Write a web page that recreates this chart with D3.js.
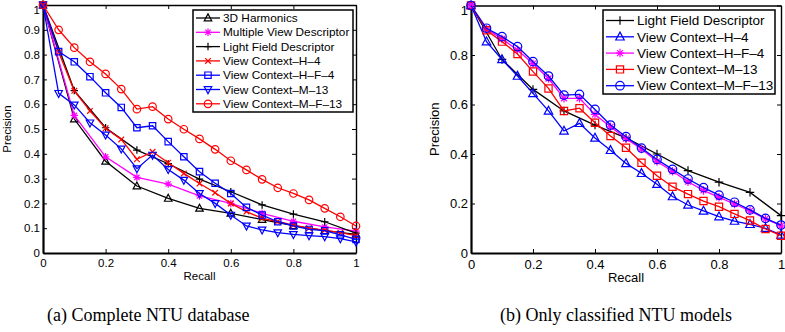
<!DOCTYPE html>
<html>
<head>
<meta charset="utf-8">
<script src="https://d3js.org/d3.v7.min.js"></script>
<style>
  body { margin: 0; background: #fff; }
  svg { display: block; }
  .tick text { font-family: "Liberation Sans", Arial, sans-serif; fill: #000; }
</style>
</head>
<body>
<div id="chart"></div>
<script>
// Recall categories (x values)
const recallTenths = [0, 0.1, 0.2, 0.3, 0.4, 0.5, 0.6, 0.7, 0.8, 0.9, 1];
const recallTwentieths = [0, 0.05, 0.1, 0.15, 0.2, 0.25, 0.3, 0.35, 0.4, 0.45, 0.5,
  0.55, 0.6, 0.65, 0.7, 0.75, 0.8, 0.85, 0.9, 0.95, 1];

// Tick labels
const xTicks = [0, 0.2, 0.4, 0.6, 0.8, 1];
const yTicksA = [0, 0.1, 0.2, 0.3, 0.4, 0.5, 0.6, 0.7, 0.8, 0.9, 1];
const yTicksB = [0, 0.2, 0.4, 0.6, 0.8, 1];

// (a) Complete NTU database
const harmonicsA = [1, 0.54, 0.37, 0.27, 0.22, 0.18, 0.16, 0.135, 0.11, 0.09, 0.075];
const mvdA = [1, 0.555, 0.388, 0.305, 0.278, 0.23, 0.2, 0.16, 0.128, 0.105, 0.088];
const lfdA = [1, 0.655, 0.505, 0.415, 0.36, 0.298, 0.247, 0.194, 0.157, 0.126, 0.08];
const vcH4A = [1, 0.81, 0.654, 0.573, 0.503, 0.458, 0.378, 0.408, 0.364, 0.321, 0.28,
  0.243, 0.2, 0.167, 0.14, 0.127, 0.112, 0.1, 0.092, 0.082, 0.07];
const vcHF4A = [1, 0.812, 0.771, 0.711, 0.646, 0.587, 0.505, 0.513, 0.449, 0.388, 0.328,
  0.281, 0.24, 0.184, 0.153, 0.126, 0.109, 0.095, 0.09, 0.073, 0.055];
const vcM13A = [1, 0.644, 0.597, 0.525, 0.476, 0.42, 0.34, 0.395, 0.337, 0.294, 0.24,
  0.2, 0.153, 0.109, 0.093, 0.082, 0.075, 0.07, 0.066, 0.058, 0.045];
const vcMF13A = [1, 0.9, 0.828, 0.771, 0.722, 0.661, 0.58, 0.59, 0.54, 0.499, 0.46,
  0.418, 0.372, 0.335, 0.297, 0.263, 0.24, 0.214, 0.18, 0.146, 0.109];

// (b) Only classified NTU models
const lfdB = [1, 0.782, 0.661, 0.574, 0.517, 0.465, 0.4, 0.333, 0.286, 0.245, 0.151];
const vcH4B = [1, 0.854, 0.782, 0.715, 0.645, 0.574, 0.493, 0.524, 0.465, 0.415, 0.362,
  0.322, 0.278, 0.228, 0.194, 0.17, 0.147, 0.129, 0.116, 0.1, 0.073];
const vcHF4B = [1, 0.905, 0.865, 0.82, 0.765, 0.705, 0.625, 0.625, 0.56, 0.51, 0.462,
  0.42, 0.37, 0.33, 0.288, 0.253, 0.225, 0.198, 0.17, 0.138, 0.11];
const vcM13B = [1, 0.9, 0.854, 0.804, 0.733, 0.665, 0.574, 0.585, 0.526, 0.473, 0.425,
  0.365, 0.312, 0.268, 0.238, 0.21, 0.187, 0.158, 0.131, 0.097, 0.07];
const vcMF13B = [1, 0.908, 0.874, 0.834, 0.773, 0.715, 0.638, 0.641, 0.58, 0.517, 0.47,
  0.424, 0.378, 0.338, 0.299, 0.264, 0.234, 0.205, 0.174, 0.14, 0.113];

const svg = d3.select("#chart").append("svg")
  .attr("width", 785)
  .attr("height", 332);

// Marker shapes drawn as paths, centred on 0,0
function markerPath(type, s) {
  const h = s / 2;
  switch (type) {
    case "triUp": return `M0,${-h * 1.1}L${h},${h * 0.75}L${-h},${h * 0.75}Z`;
    case "triDown": return `M0,${h * 1.1}L${h},${-h * 0.75}L${-h},${-h * 0.75}Z`;
    case "square": return `M${-h * 0.85},${-h * 0.85}h${h * 1.7}v${h * 1.7}h${-h * 1.7}Z`;
    case "circle": return `M${h},0A${h},${h} 0 1,1 ${-h},0A${h},${h} 0 1,1 ${h},0Z`;
    case "plus": return `M${-h},0H${h}M0,${-h}V${h}`;
    case "x": { const d = h * 0.75; return `M${-d},${-d}L${d},${d}M${-d},${d}L${d},${-d}`; }
    case "star": { const d = h * 0.7; return `M${-h},0H${h}M0,${-h}V${h}M${-d},${-d}L${d},${d}M${-d},${d}L${d},${-d}`; }
  }
}

function drawPanel(cfg) {
  const { left, right, top, bottom, yTicks, yFormat, fontSize, series, legend } = cfg;

  const x = d3.scaleLinear().domain([0, 1]).range([left, right]);
  const y = d3.scaleLinear().domain([0, 1]).range([bottom, top]);

  const g = svg.append("g");

  // Axes with inward ticks (MATLAB style)
  const bottomAxis = g.append("g")
    .attr("transform", `translate(0,${bottom})`)
    .call(d3.axisBottom(x).tickValues(xTicks).tickSizeInner(-4).tickSizeOuter(0)
      .tickPadding(4).tickFormat(d3.format("")));
  const leftAxis = g.append("g")
    .attr("transform", `translate(${left},0)`)
    .call(d3.axisLeft(y).tickValues(yTicks).tickSizeInner(-4).tickSizeOuter(0)
      .tickPadding(3).tickFormat(yFormat));
  g.append("g")
    .attr("transform", `translate(0,${top})`)
    .call(d3.axisTop(x).tickValues(xTicks).tickSizeInner(-4).tickSizeOuter(0).tickFormat(""));
  g.append("g")
    .attr("transform", `translate(${right},0)`)
    .call(d3.axisRight(y).tickValues(yTicks).tickSizeInner(-4).tickSizeOuter(0).tickFormat(""));

  g.selectAll(".domain").attr("stroke", "#000").attr("stroke-width", 1.4);
  bottomAxis.select(".domain").attr("stroke-width", 2.2);
  leftAxis.select(".domain").attr("stroke-width", 2.2);
  g.selectAll(".tick line").attr("stroke", "#000");
  g.selectAll(".tick text").style("font-size", cfg.tickSize + "px");
  bottomAxis.selectAll(".tick text").attr("dy", "0.9em");
  // keep the top "1" label inside the page
  leftAxis.selectAll(".tick text").filter(d => d === 1).attr("dy", "0.72em");

  // Axis labels
  g.append("text")
    .attr("x", (left + right) / 2)
    .attr("y", bottom + fontSize + 15)
    .attr("text-anchor", "middle")
    .style("font-family", "Liberation Sans, Arial, sans-serif")
    .style("font-size", cfg.tickSize + "px")
    .text("Recall");
  g.append("text")
    .attr("transform", `translate(${cfg.yLabelX},${(top + bottom) / 2}) rotate(-90)`)
    .attr("text-anchor", "middle")
    .style("font-family", "Liberation Sans, Arial, sans-serif")
    .style("font-size", cfg.tickSize + "px")
    .text("Precision");

  const line = d3.line().x(d => x(d[0])).y(d => y(d[1]));

  // Lines and markers
  series.forEach(s => {
    const pts = s.values.map((v, i) => [s.recall[i], v]);
    g.append("path")
      .datum(pts)
      .attr("fill", "none")
      .attr("stroke", s.color)
      .attr("stroke-width", 1.3)
      .attr("d", line);
    g.selectAll(null)
      .data(pts)
      .enter()
      .append("path")
      .attr("transform", d => `translate(${x(d[0])},${y(d[1])})`)
      .attr("d", markerPath(s.marker, cfg.markerSize))
      .attr("fill", "none")
      .attr("stroke", s.color)
      .attr("stroke-width", 1.2);
  });

  // Legend
  const lg = g.append("g");
  lg.append("rect")
    .attr("x", legend.x).attr("y", legend.y)
    .attr("width", legend.w).attr("height", legend.h)
    .attr("fill", "#fff").attr("stroke", "#000").attr("stroke-width", 1.5);
  series.forEach((s, i) => {
    const cy = legend.y + legend.first + i * legend.step;
    lg.append("line")
      .attr("x1", legend.x + 3).attr("x2", legend.x + legend.sample)
      .attr("y1", cy).attr("y2", cy)
      .attr("stroke", s.color).attr("stroke-width", 1.3);
    lg.append("path")
      .attr("transform", `translate(${legend.x + 3 + (legend.sample - 3) / 2},${cy})`)
      .attr("d", markerPath(s.marker, cfg.markerSize))
      .attr("fill", "none").attr("stroke", s.color).attr("stroke-width", 1.2);
    lg.append("text")
      .attr("x", legend.x + legend.sample + 3)
      .attr("y", cy)
      .attr("dy", "0.35em")
      .style("font-family", "Liberation Sans, Arial, sans-serif")
      .style("font-size", fontSize + "px")
      .text(s.name);
  });
}

const fmt = d => d === 0 ? "0" : d === 1 ? "1" : String(d);

drawPanel({
  left: 43, right: 356, top: 5, bottom: 253,
  yTicks: yTicksA, yFormat: fmt, fontSize: 11.8, tickSize: 11.5, markerSize: 7.5, yLabelX: 11,
  legend: { x: 193, y: 10, w: 160, h: 102, first: 8, step: 14.3, sample: 27 },
  series: [
    { name: "3D Harmonics", recall: recallTenths, values: harmonicsA, color: "#000", marker: "triUp" },
    { name: "Multiple View Descriptor", recall: recallTenths, values: mvdA, color: "#ff00ff", marker: "star" },
    { name: "Light Field Descriptor", recall: recallTenths, values: lfdA, color: "#000", marker: "plus" },
    { name: "View Context\u2013H\u20134", recall: recallTwentieths, values: vcH4A, color: "#ff0000", marker: "x" },
    { name: "View Context\u2013H\u2013F\u20134", recall: recallTwentieths, values: vcHF4A, color: "#0000ff", marker: "square" },
    { name: "View Context\u2013M\u201313", recall: recallTwentieths, values: vcM13A, color: "#0000ff", marker: "triDown" },
    { name: "View Context\u2013M\u2013F\u201313", recall: recallTwentieths, values: vcMF13A, color: "#ff0000", marker: "circle" }
  ]
});

drawPanel({
  left: 471, right: 781, top: 5.5, bottom: 253,
  yTicks: yTicksB, yFormat: fmt, fontSize: 13.5, tickSize: 13, markerSize: 8.5, yLabelX: 439,
  legend: { x: 603, y: 10, w: 172, h: 84, first: 10.5, step: 16.3, sample: 31 },
  series: [
    { name: "Light Field Descriptor", recall: recallTenths, values: lfdB, color: "#000", marker: "plus" },
    { name: "View Context\u2013H\u20134", recall: recallTwentieths, values: vcH4B, color: "#0000ff", marker: "triUp" },
    { name: "View Context\u2013H\u2013F\u20134", recall: recallTwentieths, values: vcHF4B, color: "#ff00ff", marker: "star" },
    { name: "View Context\u2013M\u201313", recall: recallTwentieths, values: vcM13B, color: "#ff0000", marker: "square" },
    { name: "View Context\u2013M\u2013F\u201313", recall: recallTwentieths, values: vcMF13B, color: "#0000ff", marker: "circle" }
  ]
});

// Sub-figure captions
svg.append("text")
  .attr("x", 47).attr("y", 321)
  .style("font-family", "Liberation Serif, serif")
  .style("font-size", "18px")
  .text("(a) Complete NTU database");
svg.append("text")
  .attr("x", 500).attr("y", 321)
  .style("font-family", "Liberation Serif, serif")
  .style("font-size", "18px")
  .text("(b) Only classified NTU models");
</script>
</body>
</html>
